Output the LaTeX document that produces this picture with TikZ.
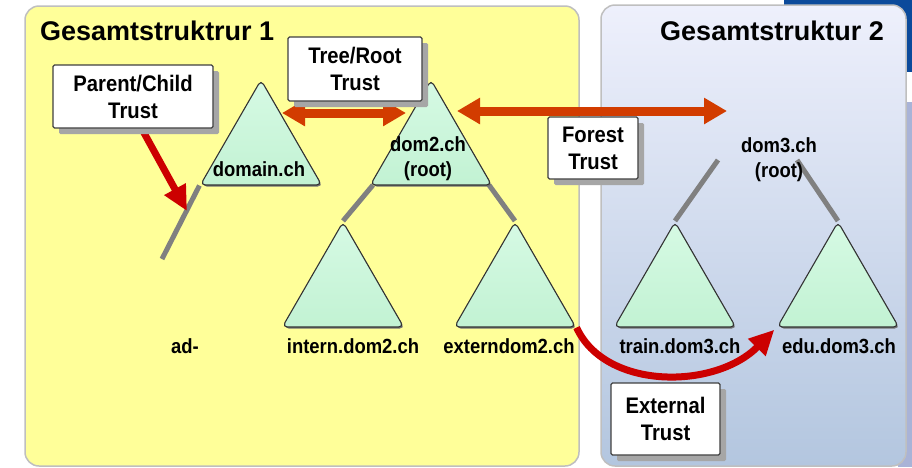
\documentclass[tikz,border=0pt]{standalone}
\usepackage{fontspec}
\setmainfont{Liberation Sans}
\newfontfamily\narrowsans{Liberation Sans}[FakeStretch=0.9]
\usetikzlibrary{shapes.geometric,arrows.meta,shadows}

\definecolor{panelyellow}{HTML}{FFFF99}
\definecolor{paneltop}{HTML}{EEF0FC}
\definecolor{panelbottom}{HTML}{B3C6DF}
\definecolor{barblue}{HTML}{0B4A9B}
\definecolor{edgeblue}{HTML}{A9B3D7}
\definecolor{domgreenlight}{HTML}{D6FAE4}
\definecolor{domgreen}{HTML}{C2F2D3}
\definecolor{treeorange}{HTML}{D23C00}
\definecolor{trustred}{HTML}{CC0000}
\definecolor{branchgray}{HTML}{808080}

\pgfdeclarelayer{panels}
\pgfdeclarelayer{links}
\pgfsetlayers{panels,links,main}

\begin{document}
\begin{tikzpicture}[x=1pt,y=-1pt,
  domtri/.style={regular polygon, regular polygon sides=3, minimum size=140pt,
    inner sep=0pt, draw=black!80, line width=1.1pt, rounded corners=5pt,
    top color=domgreenlight, bottom color=domgreen,
    general shadow={shadow xshift=1.2pt, shadow yshift=-1.5pt, fill=black!55}},
  domlabel/.style={font=\narrowsans\bfseries\fontsize{20.5}{25}\selectfont,
    align=center, inner sep=0pt},
  title/.style={font=\bfseries\fontsize{27}{30}\selectfont, inner sep=0pt},
  trustbox/.style={draw=black!75, line width=1.2pt, fill=white, rounded corners=1.5pt,
    align=center, inner sep=0pt,
    font=\narrowsans\bfseries\fontsize{22.5}{27}\selectfont,
    general shadow={shadow xshift=6pt, shadow yshift=-6pt, fill=black!35}},
  branch/.style={draw=branchgray, line width=5pt},
  rootlink/.style={draw=treeorange, line width=9pt,
    {Triangle[length=23pt,width=25pt]}-{Triangle[length=23pt,width=25pt]}},
  childlink/.style={draw=trustred, line width=7pt,
    -{Triangle[length=25pt,width=23pt]}},
]
\useasboundingbox (0,0) rectangle (912,467);

% backdrop and the two forests
\begin{pgfonlayer}{panels}
  \fill[white] (0,0) rectangle (912,467);
  \fill[barblue] (784,0) rectangle (912,72);
  \fill[edgeblue] (898,102) rectangle (912,467);
  \draw[fill=panelyellow, draw=black!25, line width=1.5pt, rounded corners=14pt]
    (25,6) rectangle (579,466);
  \shade[top color=paneltop, bottom color=panelbottom, rounded corners=14pt]
    (601,5) rectangle (906,466);
  \draw[draw=black!25, line width=1.5pt, rounded corners=14pt]
    (601,5) rectangle (906,466);
\end{pgfonlayer}

\node[title, anchor=base west] (t1) at (40,40) {Gesamtstruktrur 1};
\node[title, anchor=base east] (t2) at (884,40) {Gesamtstruktur 2};

% domain trees
\node[domtri] (domain) at (261,150) {};
\node[domtri] (dom2)   at (431,150) {};
\node[domtri] (intern) at (343,292) {};
\node[domtri] (extern) at (515,292) {};
\node[domtri] (train)  at (675,292) {};
\node[domtri] (edu)    at (838,292) {};

\node[domlabel] (domainlbl) at (259,169) {domain.ch};
\node[domlabel] (dom2lbl)   at (428,159) {dom2.ch\\(root)};
\node[domlabel] (dom3)      at (779,160) {dom3.ch\\(root)};
\node[domlabel] (adlbl)     at (185,346) {ad-};

% free ends of branches and trust arrows
\coordinate (adend)   at (162,259);
\coordinate (d3left)  at (718,160);
\coordinate (d3right) at (797,160);
\coordinate (trleft)  at (282,113);
\coordinate (trright) at (406,113);
\coordinate (frleft)  at (457,111);
\coordinate (frright) at (727,111);
\coordinate (pcstart) at (143,131);
\coordinate (pctip)   at (187,211);
\coordinate (d2left)  at (373,185);
\coordinate (d2right) at (489,185);

% tree branches, kept behind the triangles
\begin{pgfonlayer}{links}
  \draw[branch] (domain.corner 2) -- (adend);
  \draw[branch] (d2left) -- (intern.corner 1);
  \draw[branch] (d2right) -- (extern.corner 1);
  \draw[branch] (d3left) -- (train.corner 1);
  \draw[branch] (d3right) -- (edu.corner 1);
\end{pgfonlayer}

% trusts
\draw[rootlink] (trleft) -- (trright);
\draw[rootlink] (frleft) -- (frright);
\draw[childlink] (pcstart) -- (pctip);
\draw[childlink, shorten >=3pt] (extern.corner 3)
  .. controls (605,390) and (715,390) .. (edu.corner 2);

\node[domlabel] (internlbl) at (353,346) {intern.dom2.ch};
\node[domlabel] (externlbl) at (509,346) {externdom2.ch};
\node[domlabel] (trainlbl)  at (680,346) {train.dom3.ch};
\node[domlabel] (edulbl)    at (839,346) {edu.dom3.ch};

\node[trustbox, minimum width=160pt, minimum height=63pt] (pc) at (133,96.5) {Parent/Child\\Trust};
\node[trustbox, minimum width=134pt, minimum height=64pt] (tr) at (355,69) {Tree/Root\\Trust};
\node[trustbox, minimum width=90pt, minimum height=62pt] (fr) at (593,148) {Forest\\Trust};
\node[trustbox, minimum width=109pt, minimum height=72pt] (ex) at (665.5,419) {External\\Trust};
\end{tikzpicture}
\end{document}
